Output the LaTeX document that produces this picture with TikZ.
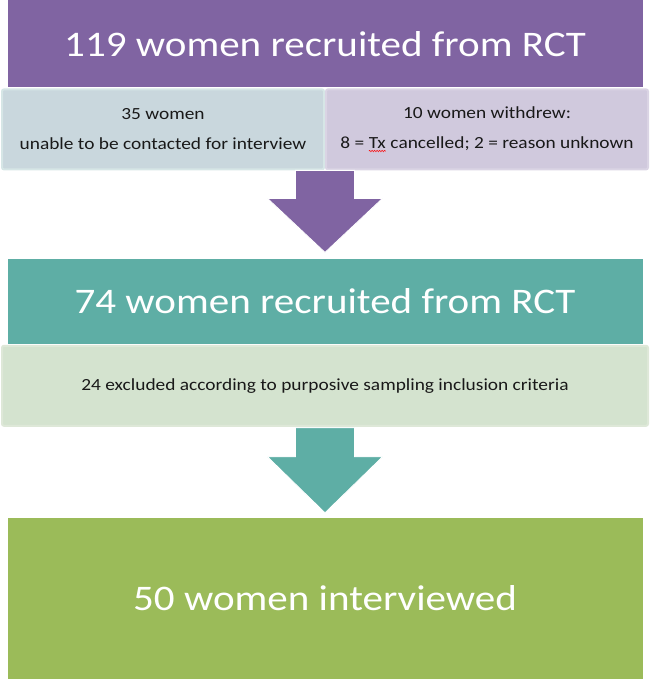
\documentclass[tikz,border=0pt]{standalone}
\usepackage{fontspec}
\setmainfont{Carlito}[FakeStretch=1.14]
\usepackage{xcolor}
\usepackage{tikz}
\usetikzlibrary{calc,positioning,decorations.pathmorphing}
\definecolor{purp}{RGB}{128,100,162}
\definecolor{teal}{RGB}{94,174,165}
\definecolor{grn}{RGB}{155,187,89}
\definecolor{lblue}{RGB}{201,215,221}
\definecolor{lblueedge}{RGB}{214,230,230}
\definecolor{lpurp}{RGB}{208,201,221}
\definecolor{lpurpedge}{RGB}{218,212,228}
\definecolor{lgrn}{RGB}{212,227,207}
\definecolor{lgrnedge}{RGB}{222,232,216}
\definecolor{txt}{RGB}{25,25,25}
\newcommand{\spellmark}[1]{\tikz[baseline=(w.base)]{%
  \node[rectangle,inner sep=0pt,outer sep=0pt,minimum width=0pt,minimum height=0pt,
    anchor=center,draw=none,fill=none,sharp corners] (w) {#1};
  \draw[red,line width=0.5pt,sharp corners,decorate,
    decoration={snake,amplitude=0.7pt,segment length=2.5pt}]
    ($(w.base west)+(0,-2.5pt)$) -- ($(w.base east)+(0,-2.5pt)$);}}

\begin{document}
\begin{tikzpicture}[x=1pt,y=1pt,
    bigbox/.style={rectangle,inner sep=0pt,minimum width=635pt,text=white,
      font=\fontsize{36}{43}\selectfont},
    notebox/.style={rectangle,inner sep=0pt,line width=2pt,rounded corners=2pt,
      text=txt,align=center,font=\fontsize{17}{30}\selectfont}]
  \useasboundingbox (0,0) rectangle (650,680);
  % main boxes
  \node[bigbox,fill=purp,minimum height=87pt,anchor=north] (recruit) at (325,680)
    {119 women recruited from RCT};
  \node[notebox,fill=lblue,draw=lblueedge,minimum width=322pt,minimum height=80pt,anchor=north east]
    (lost) at ($(recruit.south)+(0,-1)$) {35 women\\unable to be contacted for interview};
  \node[notebox,fill=lpurp,draw=lpurpedge,minimum width=322pt,minimum height=80pt,anchor=north west]
    (withdrew) at ($(recruit.south)+(0,-1)$) {10 women withdrew:\\8 = \spellmark{Tx} cancelled; 2 = reason unknown};
  \node[bigbox,fill=teal,minimum height=85pt,below=171pt of recruit] (remain) {74 women recruited from RCT};
  \node[notebox,fill=lgrn,draw=lgrnedge,minimum width=646pt,minimum height=80pt,below=1pt of remain]
    (excl) {24 excluded according to purposive sampling inclusion criteria};
  \node[bigbox,fill=grn,minimum height=161pt,below=91pt of excl] (final) {50 women interviewed};
  % block arrows
  \coordinate (a1) at ($(recruit.south)+(0,-84)$);
  \fill[purp,draw=white,line width=0.8pt] ($(a1)+(-29.5,1)$) -- ++(0,-28) -- ++(-28,0)
    -- ($(remain.north)+(0,6)$) -- ($(a1)+(57.5,-27)$) -- ++(-28,0) -- ($(a1)+(29.5,1)$) -- cycle;
  \coordinate (a2) at ($(excl.south)+(0,-1)$);
  \fill[teal,draw=white,line width=0.8pt] ($(a2)+(-29.5,0)$) -- ++(0,-29) -- ++(-28,0)
    -- ($(final.north)+(0,5)$) -- ($(a2)+(57.5,-29)$) -- ++(-28,0) -- ($(a2)+(29.5,0)$) -- cycle;
\end{tikzpicture}
\end{document}
